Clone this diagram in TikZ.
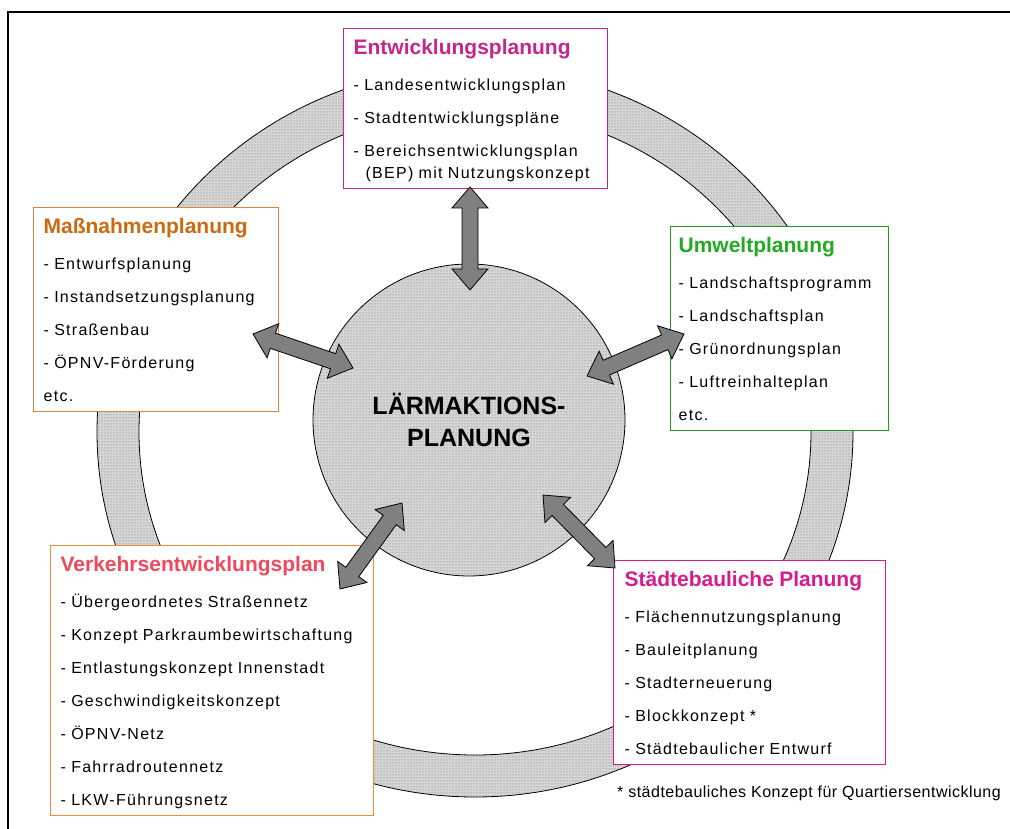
\documentclass[tikz,border=0pt]{standalone}
\usepackage{fontspec}
\setmainfont{Liberation Sans}
\newfontfamily\itemfont[LetterSpace=8]{Liberation Sans}
\newfontfamily\notefont[LetterSpace=3]{Liberation Sans}
\usetikzlibrary{positioning, patterns, calc}
\setlength{\parindent}{0pt}
\hyphenpenalty=10000
\exhyphenpenalty=10000
\hfuzz=20pt

\definecolor{entmag}{RGB}{198,38,138}
\definecolor{stbmag}{RGB}{212,28,140}
\definecolor{massbrd}{RGB}{214,134,64}
\definecolor{masstxt}{RGB}{204,106,18}
\definecolor{umwbrd}{RGB}{38,150,38}
\definecolor{umwtxt}{RGB}{34,170,34}
\definecolor{verkbrd}{RGB}{240,140,64}
\definecolor{verktxt}{RGB}{240,72,92}
\definecolor{arrgray}{RGB}{128,128,128}

% title line of a planning box
\newcommand{\boxtitle}[2]{\rule{0pt}{22pt}{\normalfont\bfseries\fontsize{21}{24}\selectfont\color{#1}#2}\\[3pt]}

% grey double block arrow between two named points
\newcommand{\fatarrow}[2]{%
  \path let \p1=(#1), \p2=(#2),
    \n1={atan2(\y2-\y1,\x2-\x1)}, \n2={veclen(\x2-\x1,\y2-\y1)} in
    \pgfextra{\xdef\arrang{\n1}\xdef\arrlen{\n2}};
  \draw[fatarr, shift={(#1)}, rotate=\arrang]
    (0pt,0pt) -- (21pt,18pt) -- (21pt,8pt) -- (\arrlen-21pt,8pt) -- (\arrlen-21pt,18pt)
    -- (\arrlen,0pt) -- (\arrlen-21pt,-18pt) -- (\arrlen-21pt,-8pt) -- (21pt,-8pt)
    -- (21pt,-18pt) -- cycle;
}

\begin{document}
\begin{tikzpicture}[
  x=1pt, y=-1pt,
  plan/.style={draw=#1, line width=1.2pt, fill=white, anchor=north west, align=left,
    inner xsep=10pt, inner ysep=4pt, font=\itemfont\fontsize{16}{33}\selectfont,
    execute at end node={\rule[-6pt]{0pt}{6pt}}},
  dotfill/.style={preaction={fill=black!16}, pattern=dots, pattern color=black!60},
  fatarr/.style={draw=black, line width=0.8pt, fill=arrgray}
]
\useasboundingbox (0,0) rectangle (1010,829);
\clip (0,0) rectangle (1010,829);

% frame
\draw[line width=1.5pt] (8,12) rectangle (1030,850);

% ring
\path[draw=black, line width=0.8pt, even odd rule,
      preaction={fill=black!16, even odd rule}, pattern=dots, pattern color=black!60]
  (475,432) ellipse [x radius=378, y radius=365] ellipse [x radius=336, y radius=323];

% centre
\node[circle, draw=black, line width=0.8pt, dotfill, minimum size=312pt, inner sep=0pt,
      align=center, font=\bfseries\fontsize{25}{32}\selectfont] (laerm) at (469,420)
  {LÄRMAKTIONS-\\PLANUNG};

% planning boxes
\node[plan=entmag, text width=244pt] (ent) at (343,28)
  {\boxtitle{entmag}{Entwicklungsplanung}
   -~Landesentwicklungsplan\\
   -~Stadtentwicklungspläne\\
   -~Bereichsentwicklungsplan\\[-11pt]
   \hspace*{12pt}(BEP) mit Nutzungskonzept};

\node[plan=massbrd, text width=225pt] (mass) at (33,207)
  {\boxtitle{masstxt}{Maßnahmenplanung}
   -~Entwurfsplanung\\
   -~Instandsetzungsplanung\\
   -~Straßenbau\\
   -~ÖPNV-Förderung\\
   etc.};

\node[plan=umwbrd, text width=202pt, inner xsep=8pt] (umw) at (670,226)
  {\boxtitle{umwtxt}{Umweltplanung}
   -~Landschaftsprogramm\\
   -~Landschaftsplan\\
   -~Grünordnungsplan\\
   -~Luftreinhalteplan\\
   etc.};

\node[plan=verkbrd, text width=303pt] (verk) at (50,545)
  {\boxtitle{verktxt}{Verkehrsentwicklungsplan}
   -~Übergeordnetes Straßennetz\\
   -~Konzept Parkraumbewirtschaftung\\
   -~Entlastungskonzept Innenstadt\\
   -~Geschwindigkeitskonzept\\
   -~ÖPNV-Netz\\
   -~Fahrradroutennetz\\
   -~LKW-Führungsnetz};

\node[plan=stbmag, text width=250pt, inner xsep=11pt] (stb) at (613,560)
  {\boxtitle{stbmag}{Städtebauliche Planung}
   -~Flächennutzungsplanung\\
   -~Bauleitplanung\\
   -~Stadterneuerung\\
   -~Blockkonzept *\\
   -~Städtebaulicher Entwurf};

\node[below=21pt of stb.south west, anchor=north west, xshift=4pt, inner sep=0pt,
      font=\notefont\fontsize{16}{18}\selectfont] (note)
  {* städtebauliches Konzept für Quartiersentwicklung};

% arrows
\coordinate (ent1) at (470,187);
\coordinate (ent2) at (470,290);
\coordinate (mass1) at (253,334);
\coordinate (mass2) at (353,368);
\coordinate (umw1) at (684,334);
\coordinate (umw2) at (587,376);
\coordinate (verk1) at (340,589);
\coordinate (verk2) at (402,503);
\coordinate (stb1) at (615,568);
\coordinate (stb2) at (543,495);

\fatarrow{ent1}{ent2}
\fatarrow{mass1}{mass2}
\fatarrow{umw1}{umw2}
\fatarrow{verk1}{verk2}
\fatarrow{stb1}{stb2}
\end{tikzpicture}
\end{document}
